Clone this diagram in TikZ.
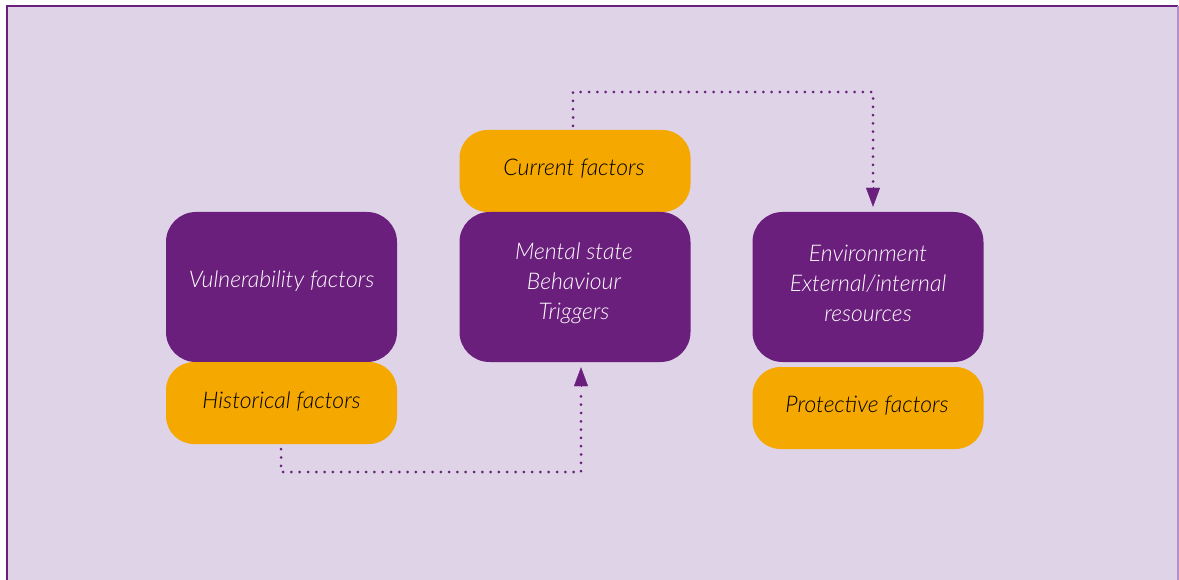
\documentclass[tikz,border=0pt]{standalone}
\usepackage{fontspec}
\setmainfont{Lato}[UprightFont=* Light, ItalicFont=* Light Italic]
\usetikzlibrary{arrows.meta}
\definecolor{bgc}{HTML}{DFD3E8}
\definecolor{purp}{HTML}{6B1F7C}
\definecolor{purpl}{HTML}{B68FC6}
\definecolor{oran}{HTML}{F5A800}
\begin{document}
\begin{tikzpicture}[x=1pt,y=-1pt,
  pbox/.style={fill=purp,rounded corners=30pt,minimum width=231pt,minimum height=150pt,inner sep=0pt},
  obox/.style={fill=oran,rounded corners=28pt,minimum width=231pt,minimum height=82pt,inner sep=0pt},
  wtxt/.style={text=white,font=\itshape\fontsize{23}{30}\selectfont,align=center},
  btxt/.style={text=black,font=\itshape\fontsize{23}{30}\selectfont,align=center},
  dots/.style={draw=purp,line width=3pt,line cap=round,dash pattern=on 0pt off 8.3pt},
  tip/.style={-{Triangle[width=14pt,length=19pt]},purp}]
\useasboundingbox (0,0) rectangle (1179,580);
\fill[white] (0,0) rectangle (1179,580);
\fill[bgc] (7,6) rectangle (1179,590);
\draw[purp,line width=2pt] (7,590) -- (7,6) -- (1178,6);
\draw[purpl,line width=1.5pt] (1178,6) -- (1178,590);
% boxes
\node[pbox] (vul) at (281.5,287) {};
\node[obox] (hist) at (281.5,403) {};
\node[obox] (cur) at (575,171) {};
\node[pbox] (ment) at (575,287) {};
\node[pbox] (env) at (868,287) {};
\node[obox] (prot) at (868,408) {};
% texts
\node[wtxt] (tvul) at (281.5,281) {Vulnerability factors};
\node[btxt] (thist) at (281.5,402) {Historical factors};
\node[btxt] (tcur) at (574,169) {Current factors};
\node[wtxt] (tment) at (574,283) {Mental state\\Behaviour\\Triggers};
\node[wtxt] (tenv) at (868,283) {Environment\\External/internal\\resources};
\node[btxt] (tprot) at (867,406) {Protective factors};
% connectors
\coordinate (c1) at (573,92);
\coordinate (c2) at (873,92);
\coordinate (c3) at (281,472);
\coordinate (c4) at (581,472);
\draw[dots] ([xshift=-2pt,yshift=4pt]cur.north) -- (c1) -- (c2) -- ([xshift=5pt,yshift=26pt]env.north);
\draw[tip] ([xshift=5pt,yshift=25pt]env.north) -- ([xshift=5pt,yshift=5pt]env.north);
\draw[dots] ([xshift=-0.5pt,yshift=-5pt]hist.south) -- (c3) -- (c4) -- ([xshift=6pt,yshift=-26pt]ment.south);
\draw[tip] ([xshift=6pt,yshift=-25pt]ment.south) -- ([xshift=6pt,yshift=-5pt]ment.south);
\end{tikzpicture}
\end{document}
